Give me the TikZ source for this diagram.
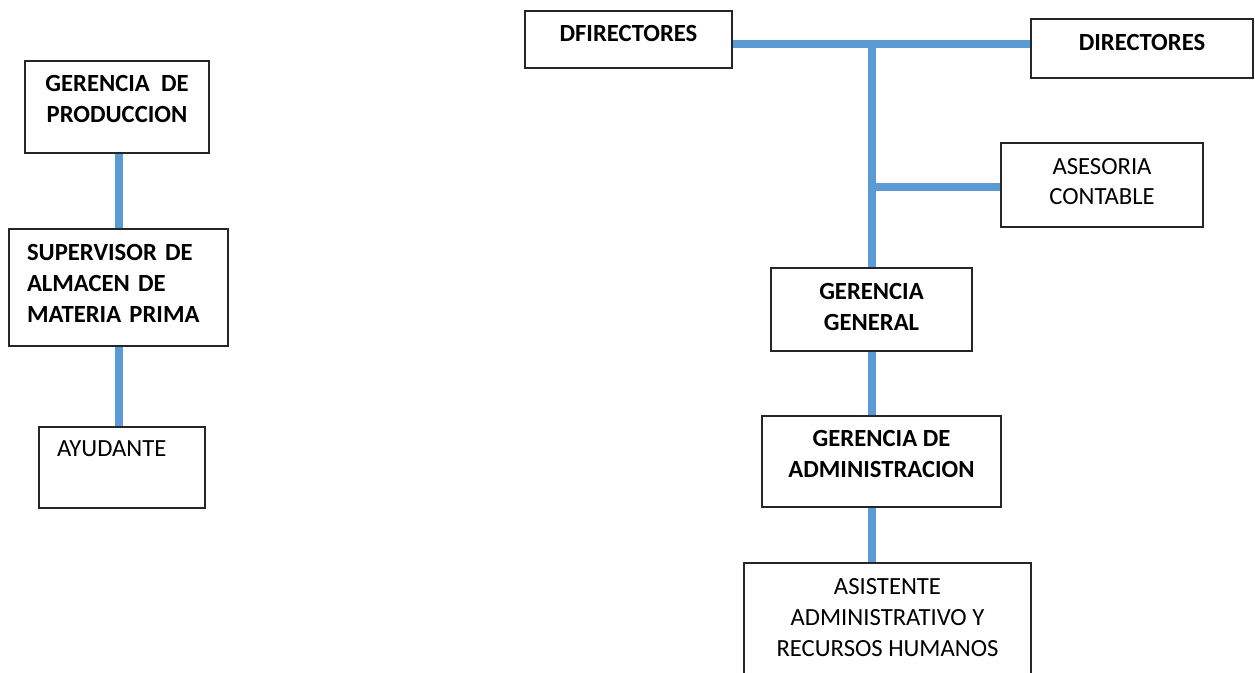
\documentclass[tikz,border=0pt]{standalone}
\usepackage{fontspec}
\setmainfont{Carlito}
\usetikzlibrary{positioning}
\definecolor{linkblue}{RGB}{91,155,213}

\begin{document}
\begin{tikzpicture}[x=0.75pt, y=-0.75pt,
    box/.style={rectangle, draw=black!85, line width=1pt, fill=white, inner sep=0pt, align=center,
      font=\fontsize{18.5}{23}\selectfont},
    boldbox/.style={box, font=\fontsize{18.5}{23}\selectfont\bfseries},
    link/.style={draw=linkblue, line width=6pt, line cap=butt}]
  \useasboundingbox (0,0) rectangle (1255,672);
  % Nodes
  \node (g-prod) [boldbox, minimum width=138pt, minimum height=69pt, text depth=12pt] at (117,107) {GERENCIA~ DE\\PRODUCCION};
  \node (sup) [boldbox, minimum width=164.25pt, minimum height=87.75pt, text width=137.25pt, align=left, text depth=52pt] at (118.5,287.5) {SUPERVISOR DE\\ALMACEN DE\\MATERIA PRIMA};
  \node (ayu) [box, minimum width=124.5pt, minimum height=60.75pt, text width=97.5pt, align=left, text depth=27.75pt] at (122,467.5) {AYUDANTE};
  \node (dfir) [boldbox, minimum width=155.25pt, minimum height=42.75pt, text depth=9pt] at (628.5,39.5) {DFIRECTORES};
  \node (dir) [boldbox, minimum width=166.5pt, minimum height=44.25pt, text depth=9pt] at (1142,48.5) {DIRECTORES};
  \node (ase) [box, minimum width=151.5pt, minimum height=63pt, text depth=5.25pt] at (1102,185) {ASESORIA\\CONTABLE};
  \node (g-gen) [boldbox, minimum width=150.75pt, minimum height=62.25pt, text depth=3.75pt] at (871.5,309.5) {GERENCIA\\GENERAL};
  \node (g-adm) [boldbox, minimum width=179.25pt, minimum height=68.25pt, text depth=11.25pt] at (881.5,461.5) {GERENCIA DE\\ADMINISTRACION};
  \node (asis) [box, minimum width=215.25pt, minimum height=87.75pt, text depth=6pt] at (887.5,621.5) {ASISTENTE\\ADMINISTRATIVO Y\\RECURSOS HUMANOS};
  \coordinate (top) at (872,44);
  % Lines
  \draw[link] (sup.north -| 119,0) -- (g-prod.south -| 119,0);
  \draw[link] (ayu.north -| 119,0) -- (sup.south -| 119,0);
  \draw[link] (dfir.east |- top) -- (dir.west |- top);
  \draw[link] (top) -- (top |- g-gen.north);
  \draw[link] (ase.west |- 0,187) -- (top |- 0,187);
  \draw[link] (top |- g-gen.south) -- (top |- g-adm.north);
  \draw[link] (top |- g-adm.south) -- (top |- asis.north);
\end{tikzpicture}
\end{document}
